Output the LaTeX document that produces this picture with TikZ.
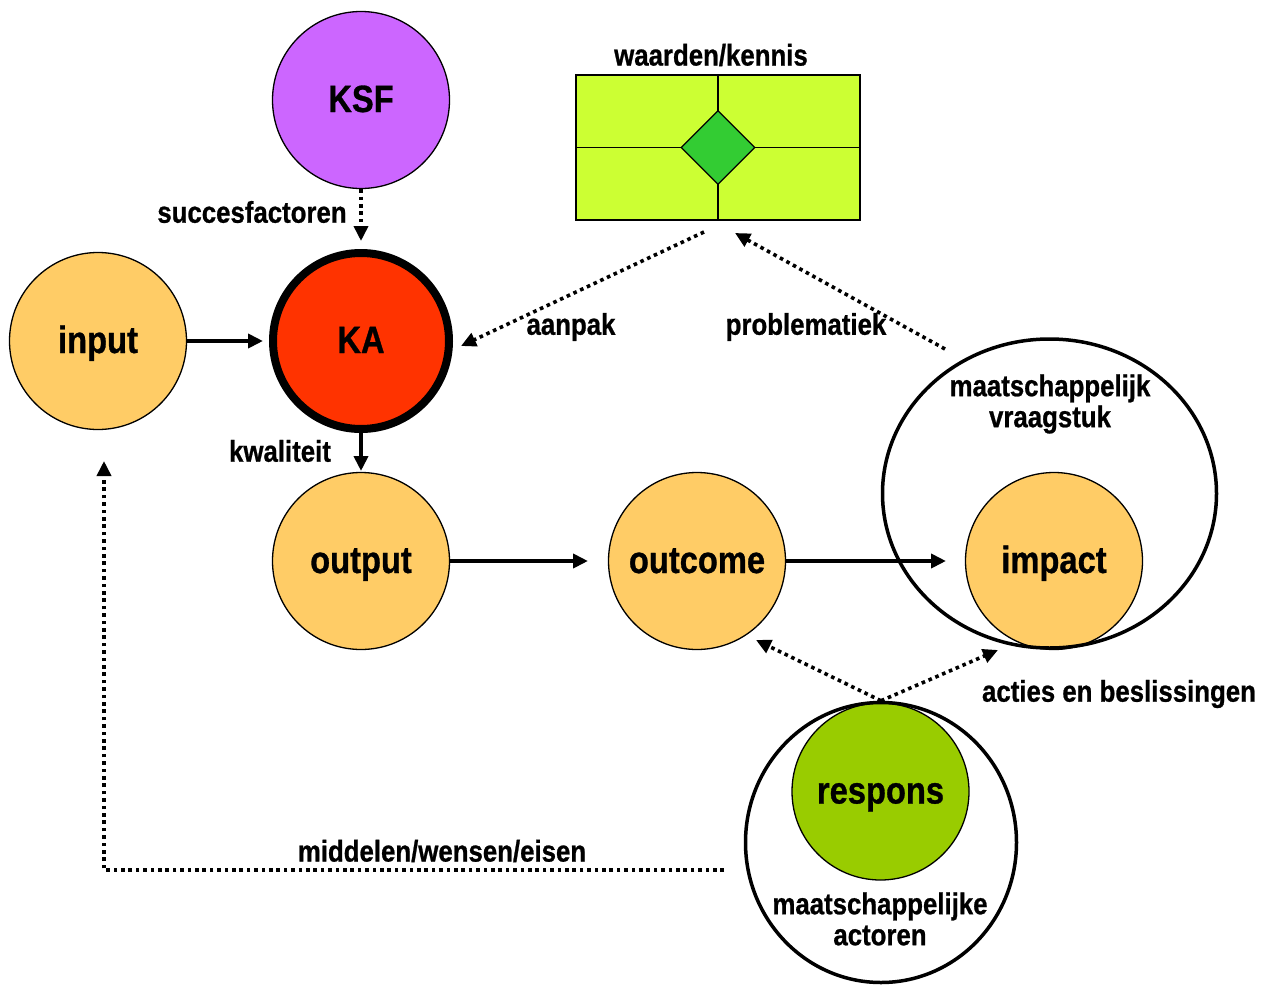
\documentclass[tikz,border=0pt]{standalone}
\usepackage{fontspec}
\setmainfont{Liberation Sans}[FakeStretch=0.86,BoldFeatures={FakeBold=0.8}]
\usetikzlibrary{arrows.meta,shapes.geometric,calc}
\definecolor{cOrange}{HTML}{FFCC66}
\definecolor{cPurple}{HTML}{CC66FF}
\definecolor{cRed}{HTML}{FF3300}
\definecolor{cGreen}{HTML}{99CC00}
\definecolor{cLime}{HTML}{CCFF33}
\definecolor{cDiamond}{HTML}{33CC33}
\newcommand{\bubtext}[1]{\raisebox{-12pt}[0pt][0pt]{#1}}
\tikzset{
  bubble/.style={circle,draw=black,line width=1.3pt,minimum size=177pt,inner sep=0pt,font=\bfseries\fontsize{38}{42}\selectfont},
  ring/.style={ellipse,draw=black,line width=3.5pt,inner sep=0pt},
  lbl/.style={font=\bfseries\fontsize{30}{33}\selectfont,align=center,inner sep=0pt},
  solidarrow/.style={line width=4pt,-{Triangle[length=15pt,width=14pt]}},
  dotarrow/.style={line width=3.6pt,dash pattern=on 3.6pt off 3.8pt,-{Triangle[length=15pt,width=14pt]}},
}
\begin{document}
\begin{tikzpicture}[x=1pt,y=-1pt]
\useasboundingbox (0,0) rectangle (1264,985);
% value/knowledge box
\node[draw=black,line width=1.3pt,fill=cLime,minimum width=284pt,minimum height=145pt,inner sep=0pt] (box) at (718,147.5) {};
\draw[line width=1.3pt] (box.north) -- (box.south);
\draw[line width=1.3pt] (box.west) -- (box.east);
\node[diamond,draw=black,line width=1.3pt,fill=cDiamond,minimum width=74pt,minimum height=74pt,inner sep=0pt] (dia) at (box.center) {};
\node[lbl] (lwk) at (711,55) {waarden/kennis};
% circles
\node[bubble,fill=cPurple] (ksf) at (361,100) {\bubtext{KSF}};
\node[bubble,fill=cRed,line width=8pt,minimum size=176pt] (ka) at (361,341) {\bubtext{KA}};
\node[bubble,fill=cOrange] (input) at (98,341) {\bubtext{input}};
\node[bubble,fill=cOrange] (output) at (361,561) {\bubtext{output}};
\node[bubble,fill=cOrange] (outcome) at (697,561) {\bubtext{outcome}};
\node[bubble,fill=cOrange] (impact) at (1054,561) {\bubtext{impact}};
\node[ring,minimum width=334pt,minimum height=309pt] (vraag) at (1049.5,493.5) {};
\node[bubble,fill=cGreen] (respons) at (880.5,791.5) {\bubtext{respons}};
\node[ring,minimum width=271pt,minimum height=280pt] (actor) at (881,842.5) {};
% ring labels
\node[lbl] (lvraag) at (1050,404) {maatschappelijk\\[-2pt]vraagstuk};
\node[lbl] (lactor) at (880,919) {maatschappelijke\\[-2pt]actoren};
% coordinates
\coordinate (kaTop) at (361,241);
\coordinate (inTip) at (263,341);
\coordinate (outTop) at (361,471);
\coordinate (ocL) at (588,561);
\coordinate (imL) at (946,561);
\coordinate (boxS1) at (704,232);
\coordinate (kaR) at (461,346);
\coordinate (vrTL) at (945,349);
\coordinate (boxS2) at (735,233);
\coordinate (ocBR) at (756,640);
\coordinate (imBL) at (998,650);
\coordinate (acW) at (724,870);
\coordinate (corner) at (104,870);
\coordinate (inB) at (104,461);
% connectors
\draw[dotarrow] (ksf.south) -- (kaTop);
\draw[solidarrow] (input.east) -- (inTip);
\draw[solidarrow] (ka.south) -- (outTop);
\draw[solidarrow] (output.east) -- (ocL);
\draw[solidarrow] (outcome.east) -- (imL);
\draw[dotarrow] (boxS1) -- (kaR);
\draw[dotarrow] (vrTL) -- (boxS2);
\draw[dotarrow] (actor.north) -- (ocBR);
\draw[dotarrow] (actor.north) -- (imBL);
\draw[dotarrow] (acW) -- (corner) -- (inB);
% labels
\node[lbl] (lsucc) at (252,212) {succesfactoren};
\node[lbl] (lkwal) at (280,451) {kwaliteit};
\node[lbl] (laan) at (571,327) {aanpak};
\node[lbl] (lprob) at (806,327) {problematiek};
\node[lbl] (lacties) at (1119,694) {acties en beslissingen};
\node[lbl] (lmidd) at (442,851) {middelen/wensen/eisen};
\end{tikzpicture}
\end{document}
